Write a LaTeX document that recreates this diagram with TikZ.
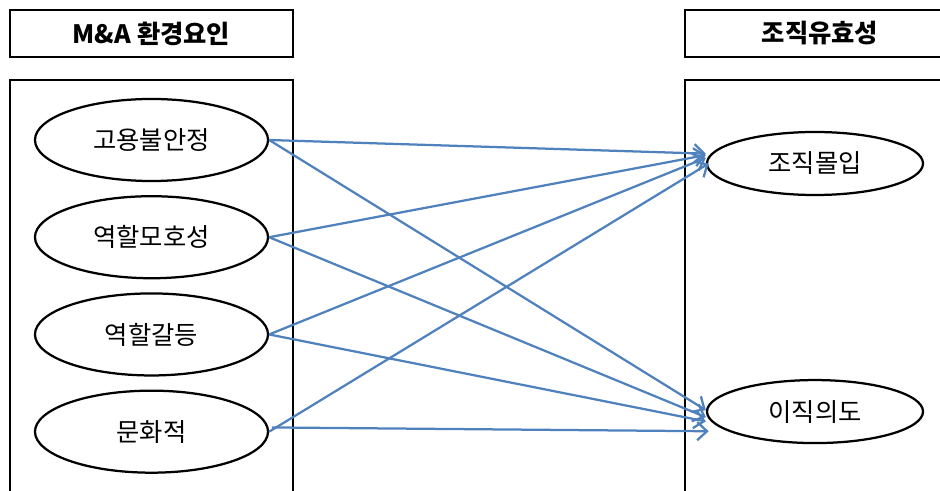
\documentclass[tikz,border=0pt]{standalone}
\usepackage{fontspec}
\setmainfont{Noto Sans CJK KR}
\usetikzlibrary{arrows.meta}
\usetikzlibrary{shapes.geometric}
\definecolor{linkblue}{HTML}{4F81BD}

\begin{document}
\begin{tikzpicture}[x=0.025cm,y=-0.025cm,>={Straight Barb[length=7pt,width=13pt]},
		node distance=2.43cm,font=\fontsize{18}{22}\selectfont]
		\tikzstyle{title}=[draw,line width=1.9pt,minimum height=1.175cm,inner sep=0pt,
			font=\fontsize{18}{22}\selectfont\bfseries]
		\tikzstyle{factor}=[ellipse,draw,line width=1.6pt,inner sep=0pt,
			minimum width=5.825cm,minimum height=2.05cm]
		\tikzstyle{outcome}=[ellipse,draw,line width=1.6pt,inner sep=0pt,
			minimum width=5.4cm,minimum height=1.575cm]
		\tikzstyle{effect}=[->,draw=linkblue,line width=1.6pt]
		
		\path[use as bounding box,clip] (0,0) rectangle (940,491);
		
		% headers
		\node[title,minimum width=7.075cm] (envtitle) at (151.5,33.5) {M\&A 환경요인};
		\node[title,minimum width=6.75cm]  (efftitle) at (820,33.5)   {조직유효성};
		
		% frames, open at the bottom
		\draw[line width=1.9pt] (10,500) -- (10,80) -- (293,80) -- (293,500);
		\draw[line width=1.9pt] (685,500) -- (685,80) -- (955,80) -- (955,500);
		
		\node[factor] (goyong)   at (151.5,140)         {고용불안정};
		\node[factor] (moho)     [below of=goyong]      {역할모호성};
		\node[factor] (galdeung) [below of=moho]        {역할갈등};
		\node[factor] (munhwa)   [below of=galdeung]    {문화적};
		
		\node[outcome] (mol)  at (815,163.5)                  {조직몰입};
		\node[outcome] (ijik) [below of=mol,node distance=6.2cm] {이직의도};
		
		\path[every edge/.style=effect]
		(goyong.east)   edge ([yshift=7pt]mol.west)
		(goyong.east)   edge ([yshift=1pt]ijik.west)
		(moho.east)     edge ([yshift=6pt]mol.west)
		(moho.east)     edge ([yshift=-4pt]ijik.west)
		(galdeung.east) edge ([yshift=4pt]mol.west)
		(galdeung.east) edge ([yshift=-7pt]ijik.west)
		(munhwa.east)   edge ([xshift=2pt]mol.west)
		([xshift=2pt,yshift=3pt]munhwa.east) edge ([xshift=2pt,yshift=-14pt]ijik.west);
	\end{tikzpicture}
\end{document}
